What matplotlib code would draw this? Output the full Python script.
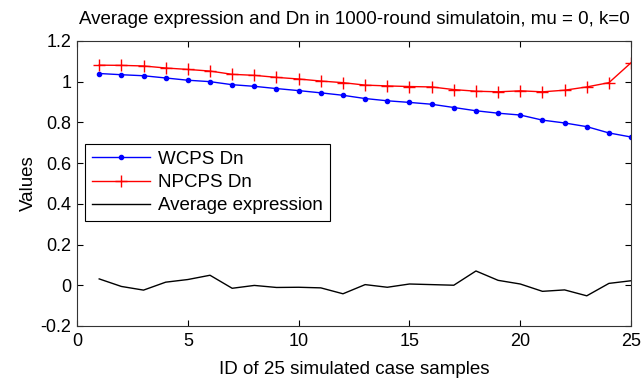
import matplotlib.pyplot as plt

plt.rcParams['font.family'] = ['Liberation Sans', 'DejaVu Sans']

# sample ids 1..25
ids = list(range(1, 26))

wcps_dn = [1.040, 1.034, 1.029, 1.018, 1.007, 1.000, 0.985, 0.977, 0.966, 0.956,
           0.945, 0.933, 0.917, 0.906, 0.898, 0.889, 0.873, 0.857, 0.845, 0.836,
           0.811, 0.797, 0.779, 0.748, 0.728]

npcps_dn = [1.081, 1.080, 1.077, 1.067, 1.060, 1.052, 1.036, 1.031, 1.021, 1.013,
            1.003, 0.995, 0.983, 0.979, 0.976, 0.974, 0.961, 0.953, 0.950, 0.955,
            0.950, 0.958, 0.974, 0.995, 1.093]

avg_expr = [0.031, -0.006, -0.024, 0.015, 0.028, 0.049, -0.015, -0.001, -0.011, -0.010,
            -0.013, -0.042, 0.003, -0.010, 0.006, 0.003, 0.000, 0.070, 0.024, 0.006,
            -0.030, -0.023, -0.052, 0.009, 0.022]

fig = plt.figure(figsize=(6.42, 3.79), dpi=100)
ax = fig.add_axes([0.12, 0.14, 0.863, 0.752])

ax.plot(ids, wcps_dn, color='blue', marker='.', markersize=6, linewidth=1, label='WCPS Dn')
ax.plot(ids, npcps_dn, color='red', marker='+', markersize=8, markeredgewidth=1,
        linewidth=1, label='NPCPS Dn')
ax.plot(ids, avg_expr, color='black', linewidth=1, label='Average expression')

ax.set_xlim(0, 25)
ax.set_ylim(-0.2, 1.2)
ax.set_xticks([0, 5, 10, 15, 20, 25])
ax.set_yticks([-0.2, 0, 0.2, 0.4, 0.6, 0.8, 1.0, 1.2])
ax.set_yticklabels(['-0.2', '0', '0.2', '0.4', '0.6', '0.8', '1', '1.2'])
ax.tick_params(direction='in', top=True, right=True, labelsize=13, length=4, width=0.8)
ax.tick_params(axis='x', pad=5)
ax.tick_params(axis='y', pad=4)
for s in ax.spines.values():
    s.set_linewidth(0.8)
    s.set_color('#333333')

ax.set_xlabel('ID of 25 simulated case samples', fontsize=13.5, labelpad=8)
ax.set_ylabel('Values', fontsize=13.5, labelpad=3)
ax.set_title('Average expression and Dn in 1000-round simulatoin, mu = 0, k=0',
             fontsize=13.5, pad=12)

leg = ax.legend(loc='lower left', bbox_to_anchor=(0.0144, 0.368), fontsize=13.5,
                fancybox=False, framealpha=1, edgecolor='black', handlelength=3.1,
                borderpad=0.35, labelspacing=0.33, handletextpad=0.45, borderaxespad=0)
leg.get_frame().set_linewidth(0.8)

fig.savefig('out.png', dpi=100)
